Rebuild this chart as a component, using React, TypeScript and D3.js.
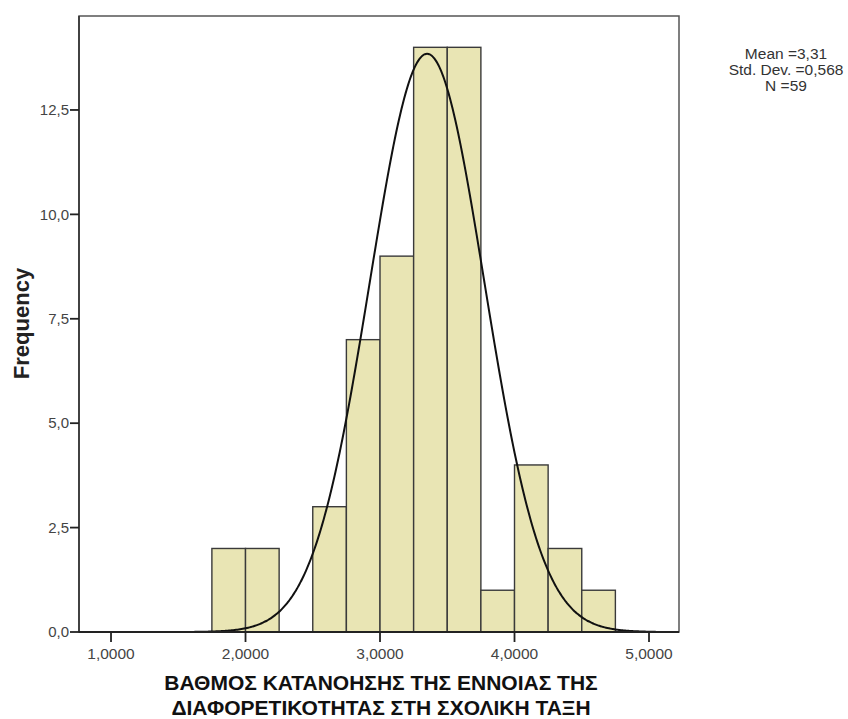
import React from "react";
import * as d3 from "d3";

// ---- data ----
const binStarts = [1.75, 2.0, 2.5, 2.75, 3.0, 3.25, 3.5, 3.75, 4.0, 4.25, 4.5];
const binCounts = [2, 2, 3, 7, 9, 14, 14, 1, 4, 2, 1];
const binWidth = 0.25;
const xTicks = [1, 2, 3, 4, 5];
const yTicks = [0, 2.5, 5, 7.5, 10, 12.5];
const statLines = ["Mean =3,31", "Std. Dev. =0,568", "N =59"];
const xTitleLines = [
  "ΒΑΘΜΟΣ ΚΑΤΑΝΟΗΣΗΣ ΤΗΣ ΕΝΝΟΙΑΣ ΤΗΣ",
  "ΔΙΑΦΟΡΕΤΙΚΟΤΗΤΑΣ ΣΤΗ ΣΧΟΛΙΚΗ ΤΑΞΗ",
];
const yTitle = "Frequency";
const sampleN = 59;
// normal curve as drawn in the picture
const curveMean = 3.35;
const curveSd = 0.425;
const curveRange = [1.62, 5.05];

const W = 848;
const H = 719;
const margin = { left: 79, right: 679, top: 16, bottom: 632 };

export default function App() {
  const x = d3.scaleLinear().domain([0.762, 5.223]).range([margin.left, margin.right]);
  const y = d3.scaleLinear().domain([0, 14.75]).range([margin.bottom, margin.top]);

  const fmtX = (v: number) => v.toFixed(4).replace(".", ",");
  const fmtY = (v: number) => v.toFixed(1).replace(".", ",");

  const pts = d3.range(curveRange[0], curveRange[1] + 1e-9, 0.01).map((v) => {
    const z = (v - curveMean) / curveSd;
    const dens = Math.exp(-0.5 * z * z) / (curveSd * Math.sqrt(2 * Math.PI));
    return [v, sampleN * binWidth * dens] as [number, number];
  });
  const line = d3
    .line<[number, number]>()
    .x((d) => x(d[0]))
    .y((d) => y(d[1]))
    .curve(d3.curveBasis);

  const font = "'Liberation Sans', Arial, sans-serif";

  return (
    <div style={{ position: "absolute", left: 0, top: 0 }}>
      <svg width={W} height={H} style={{ display: "block", background: "#fff" }}>
        {/* frame */}
        <rect
          x={margin.left}
          y={margin.top}
          width={margin.right - margin.left}
          height={margin.bottom - margin.top}
          fill="#fff"
          stroke="#555"
          strokeWidth={1.5}
        />
        {/* bars */}
        {binStarts.map((s, i) => (
          <rect
            key={i}
            x={x(s)}
            y={y(binCounts[i])}
            width={x(s + binWidth) - x(s)}
            height={y(0) - y(binCounts[i])}
            fill="#e9e5b4"
            stroke="#3a3a3a"
            strokeWidth={1.4}
          />
        ))}
        {/* curve */}
        <path d={line(pts) || ""} fill="none" stroke="#111" strokeWidth={2} />
        {/* axes lines */}
        <line x1={margin.left} x2={margin.left} y1={margin.top} y2={margin.bottom} stroke="#333" strokeWidth={1.6} />
        <line x1={margin.left} x2={margin.right} y1={margin.bottom} y2={margin.bottom} stroke="#222" strokeWidth={1.8} />
        {/* y ticks */}
        {yTicks.map((t) => (
          <g key={t}>
            <line x1={margin.left - 9} x2={margin.left} y1={y(t)} y2={y(t)} stroke="#222" strokeWidth={1.8} />
            <text
              x={margin.left - 10}
              y={y(t)}
              dy="0.35em"
              textAnchor="end"
              fontFamily={font}
              fontSize={15}
              fill="#444"
            >
              {fmtY(t)}
            </text>
          </g>
        ))}
        {/* x ticks */}
        {xTicks.map((t) => (
          <g key={t}>
            <line x1={x(t)} x2={x(t)} y1={margin.bottom} y2={margin.bottom + 10} stroke="#222" strokeWidth={1.8} />
            <text
              x={x(t)}
              y={659}
              textAnchor="middle"
              fontFamily={font}
              fontSize={15.5}
              fill="#444"
            >
              {fmtX(t)}
            </text>
          </g>
        ))}
        {/* y title */}
        <text
          transform={`translate(29,${(267 + 380) / 2}) rotate(-90)`}
          textAnchor="middle"
          fontFamily={font}
          fontSize={22}
          fontWeight="bold"
          fill="#222"
        >
          {yTitle}
        </text>
        {/* x title (two lines) */}
        {xTitleLines.map((l, i) => (
          <text
            key={i}
            x={381}
            y={690 + i * 24.5}
            textAnchor="middle"
            fontFamily={font}
            fontSize={21}
            fontWeight="bold"
            fill="#111"
          >
            {l}
          </text>
        ))}
        {/* stats */}
        {statLines.map((l, i) => (
          <text
            key={i}
            x={786}
            y={59 + i * 16}
            textAnchor="middle"
            fontFamily={font}
            fontSize={15.5}
            fill="#333"
          >
            {l}
          </text>
        ))}
      </svg>
    </div>
  );
}
